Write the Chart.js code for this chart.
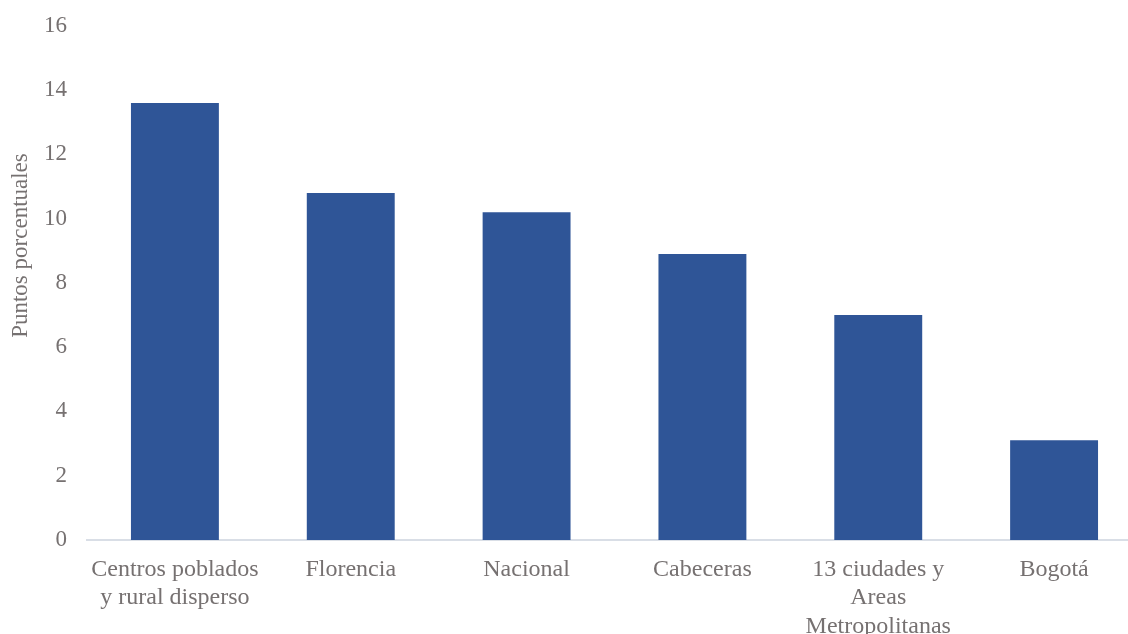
<!DOCTYPE html>
<html>
<head>
<meta charset="utf-8">
<script src="https://cdn.jsdelivr.net/npm/chart.js@4"></script>
<style>
  html, body { margin: 0; padding: 0; background: #fff; overflow: hidden; }
  #wrap { position: relative; top: -8px; width: 1142px; height: 642px; }
</style>
</head>
<body>
<div id="wrap"><canvas id="chart"></canvas></div>
<script>
var categories = [
  ['Centros poblados', 'y rural disperso'],
  'Florencia',
  'Nacional',
  'Cabeceras',
  ['13 ciudades y', 'Areas', 'Metropolitanas'],
  'Bogotá'
];
var values = [13.6, 10.8, 10.2, 8.9, 7.0, 3.1];
var yTicks = [0, 2, 4, 6, 8, 10, 12, 14, 16];
var yTitle = 'Puntos porcentuales';

var textColor = '#767171';
var serif = "'Liberation Serif', 'Times New Roman', serif";

// the title sits a little above the middle of the axis in the original
var titleShift = '\u00A0'.repeat(13);

var chart = new Chart(document.getElementById('chart'), {
  type: 'bar',
  data: {
    labels: categories,
    datasets: [{
      label: yTitle,
      data: values,
      backgroundColor: '#2F5597',
      borderWidth: 0,
      barPercentage: 0.5,
      categoryPercentage: 1.0
    }]
  },
  options: {
    responsive: true,
    maintainAspectRatio: false,
    animation: false,
    layout: { padding: { top: 16, right: 0, bottom: 0, left: 0 } },
    plugins: {
      legend: { display: false },
      tooltip: { enabled: false }
    },
    scales: {
      x: {
        grid: { display: false, drawTicks: false },
        border: { display: true, color: '#D9DEE6', width: 2 },
        ticks: {
          color: textColor,
          font: { family: serif, size: 24 },
          padding: 15,
          maxRotation: 0,
          autoSkip: false
        },
        afterFit: function(axis) { axis.height = 94; }
      },
      y: {
        min: 0,
        max: 16,
        afterBuildTicks: function(axis) {
          axis.ticks = yTicks.map(function(v) { return { value: v }; });
        },
        grid: { display: false, drawTicks: false },
        border: { display: false },
        ticks: {
          color: textColor,
          font: { family: serif, size: 23 },
          padding: 20
        },
        title: {
          display: true,
          text: titleShift + yTitle,
          color: textColor,
          font: { family: serif, size: 23 },
          padding: { top: 7, bottom: 0 }
        },
        afterFit: function(axis) { axis.width = 87; }
      }
    }
  }
});
</script>
</body>
</html>
